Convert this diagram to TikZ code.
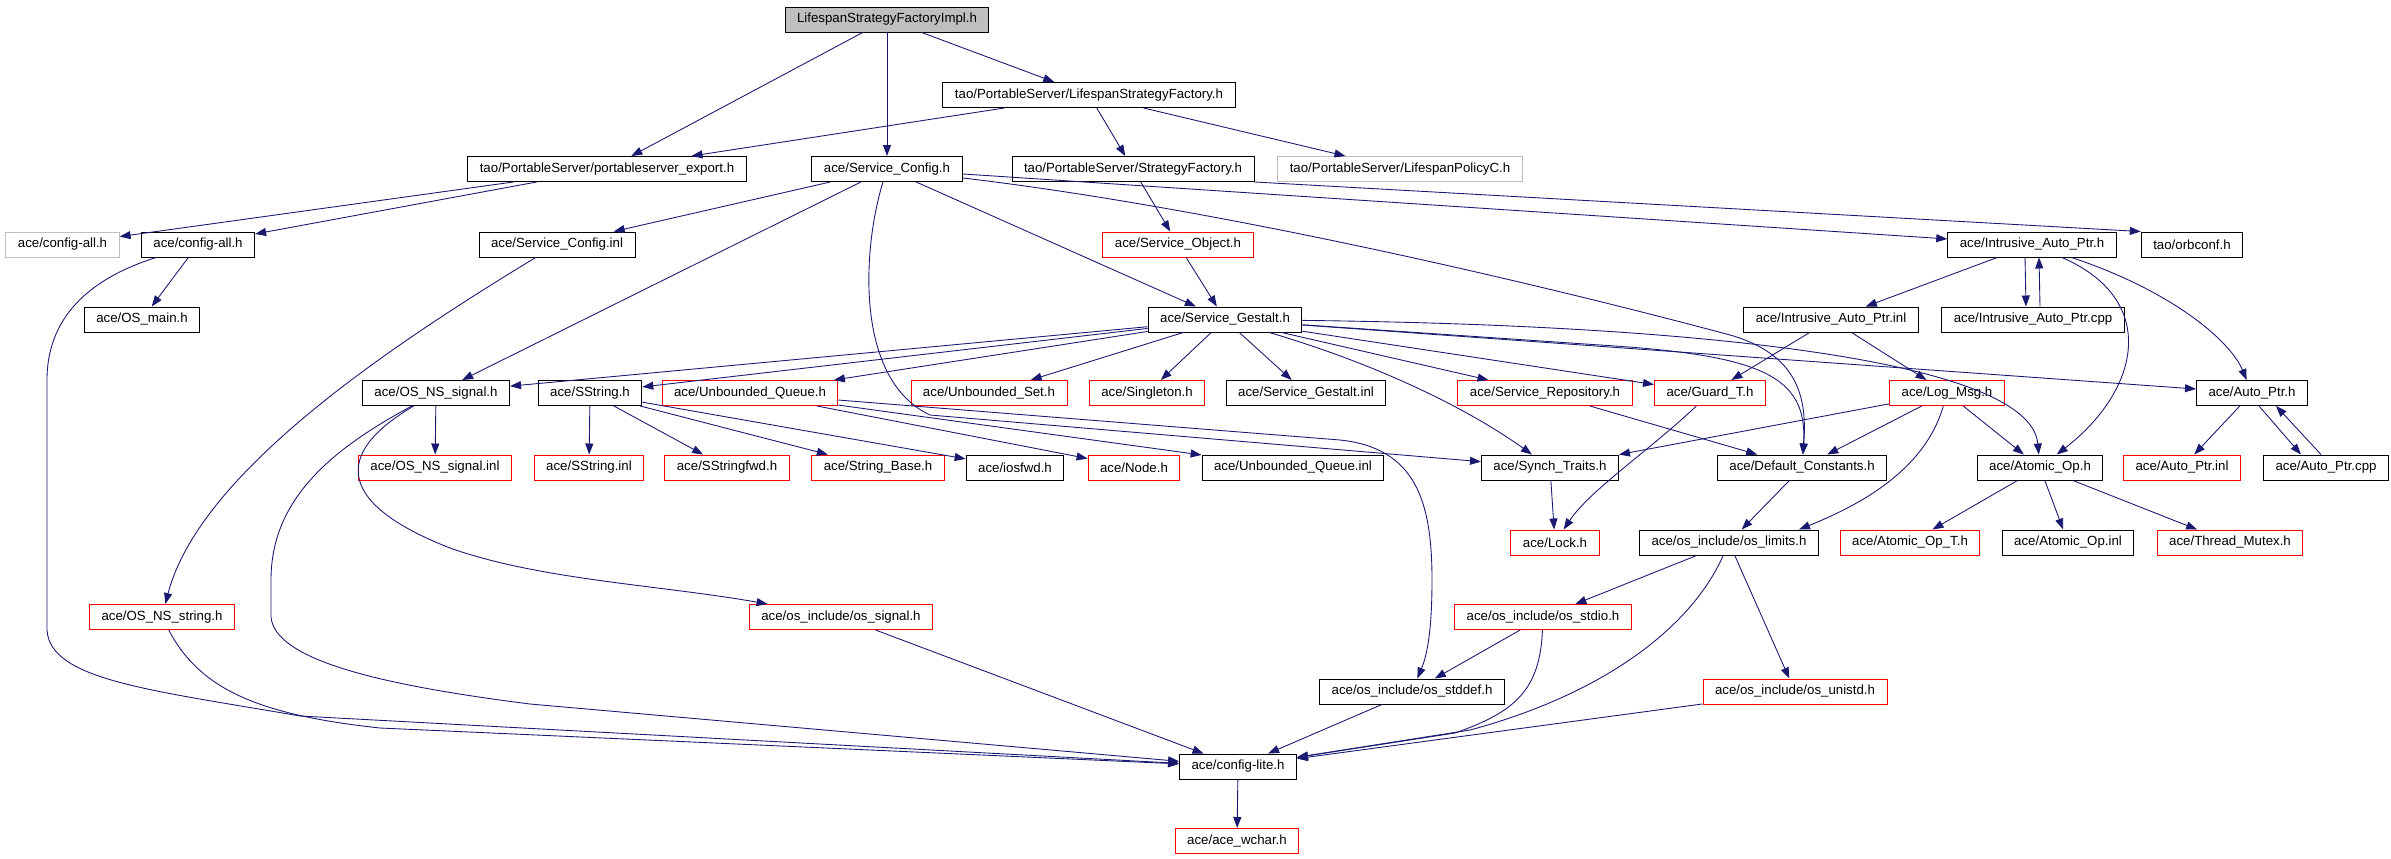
\documentclass[tikz,border=0pt]{standalone}
\usepackage{fontspec}
\setmainfont{Liberation Sans}
\usetikzlibrary{arrows.meta}
\definecolor{edgeblue}{HTML}{191970}
\definecolor{boxgray}{HTML}{BFBFBF}
\tikzset{
	hdr/.style={draw=black, line width=0.55pt, font=\fontsize{7.55}{9}\selectfont, inner xsep=0.24cm, inner ysep=0pt, minimum height=0.5cm},
	hdrred/.style={hdr, draw=red},
	hdrgray/.style={hdr, draw=boxgray},
	hdrroot/.style={hdr, fill=boxgray},
	incl/.style={draw=edgeblue, line width=0.5pt, -{Triangle[length=0.22cm,width=0.16cm]}}
}

\begin{document}
\begin{tikzpicture}[x=0.02cm,y=-0.02cm]
			\useasboundingbox (0,0) rectangle (2391,859);
			% headers, row by row
			\node[hdrroot] (lsfi) at (887,19.5) {LifespanStrategyFactoryImpl.h};
			\node[hdr] (lsf) at (1089,95) {tao/PortableServer/LifespanStrategyFactory.h};
			\node[hdr] (pse) at (607,169) {tao/PortableServer/portableserver\_export.h};
			\node[hdr] (sconf) at (887,169) {ace/Service\_Config.h};
			\node[hdr] (sfact) at (1133,169) {tao/PortableServer/StrategyFactory.h};
			\node[hdrgray] (lpolc) at (1400,169) {tao/PortableServer/LifespanPolicyC.h};
			\node[hdrgray] (cfgallx) at (62.5,244.5) {ace/config-all.h};
			\node[hdr] (cfgall) at (198,244.5) {ace/config-all.h};
			\node[hdr] (sconfinl) at (557,244.5) {ace/Service\_Config.inl};
			\node[hdrred] (sobj) at (1178,244.5) {ace/Service\_Object.h};
			\node[hdr] (iap) at (2032,244.5) {ace/Intrusive\_Auto\_Ptr.h};
			\node[hdr] (orbconf) at (2192,244.5) {tao/orbconf.h};
			\node[hdr] (osmain) at (142,319.5) {ace/OS\_main.h};
			\node[hdr] (sgest) at (1225,319.5) {ace/Service\_Gestalt.h};
			\node[hdr] (iapinl) at (1831,319.5) {ace/Intrusive\_Auto\_Ptr.inl};
			\node[hdr] (iapcpp) at (2033,319.5) {ace/Intrusive\_Auto\_Ptr.cpp};
			\node[hdr] (nssig) at (436,393) {ace/OS\_NS\_signal.h};
			\node[hdr] (sstr) at (590,393) {ace/SString.h};
			\node[hdrred] (uqueue) at (750,393) {ace/Unbounded\_Queue.h};
			\node[hdrred] (uset) at (989,393) {ace/Unbounded\_Set.h};
			\node[hdrred] (single) at (1147,393) {ace/Singleton.h};
			\node[hdr] (sgestinl) at (1306,393) {ace/Service\_Gestalt.inl};
			\node[hdrred] (srepo) at (1545,393) {ace/Service\_Repository.h};
			\node[hdrred] (guard) at (1710,393) {ace/Guard\_T.h};
			\node[hdrred] (logmsg) at (1947,393) {ace/Log\_Msg.h};
			\node[hdr] (aptr) at (2252,393) {ace/Auto\_Ptr.h};
			\node[hdrred] (nssiginl) at (435,467.5) {ace/OS\_NS\_signal.inl};
			\node[hdrred] (sstrinl) at (589,467.5) {ace/SString.inl};
			\node[hdrred] (sstrfwd) at (727,467.5) {ace/SStringfwd.h};
			\node[hdrred] (strbase) at (878,467.5) {ace/String\_Base.h};
			\node[hdr] (iosfwd) at (1015,467.5) {ace/iosfwd.h};
			\node[hdrred] (nodeh) at (1134,467.5) {ace/Node.h};
			\node[hdr] (uqinl) at (1293,467.5) {ace/Unbounded\_Queue.inl};
			\node[hdr] (synch) at (1550,467.5) {ace/Synch\_Traits.h};
			\node[hdr] (defc) at (1802,467.5) {ace/Default\_Constants.h};
			\node[hdr] (atomic) at (2040,467.5) {ace/Atomic\_Op.h};
			\node[hdrred] (aptrinl) at (2182,467.5) {ace/Auto\_Ptr.inl};
			\node[hdr] (aptrcpp) at (2326,467.5) {ace/Auto\_Ptr.cpp};
			\node[hdrred] (lock) at (1555,542.5) {ace/Lock.h};
			\node[hdr] (oslim) at (1729,542.5) {ace/os\_include/os\_limits.h};
			\node[hdrred] (atomict) at (1910,542.5) {ace/Atomic\_Op\_T.h};
			\node[hdr] (atomicinl) at (2068,542.5) {ace/Atomic\_Op.inl};
			\node[hdrred] (tmutex) at (2230,542.5) {ace/Thread\_Mutex.h};
			\node[hdrred] (nsstr) at (162,617) {ace/OS\_NS\_string.h};
			\node[hdrred] (ossig) at (841,617) {ace/os\_include/os\_signal.h};
			\node[hdrred] (osstdio) at (1543,617) {ace/os\_include/os\_stdio.h};
			\node[hdr] (osstddef) at (1412,691.5) {ace/os\_include/os\_stddef.h};
			\node[hdrred] (osunistd) at (1795,691.5) {ace/os\_include/os\_unistd.h};
			\node[hdr] (cfglite) at (1238,766.5) {ace/config-lite.h};
			\node[hdrred] (wchar) at (1237,841) {ace/ace\_wchar.h};

			% includes
			\draw[incl] (lsfi) -- (pse);
			\draw[incl] (lsfi) -- (sconf);
			\draw[incl] (lsfi) -- (lsf);
			\draw[incl] (lsf) -- (pse);
			\draw[incl] (lsf) -- (sfact);
			\draw[incl] (lsf) -- (lpolc);
			\draw[incl] (pse) -- (cfgallx);
			\draw[incl] (pse) -- (cfgall);
			\draw[incl] (cfgall) -- (osmain);
			\draw[incl] (cfgall) .. controls (100,275) and (47,310) .. (47,380) -- (47,630)
				.. controls (50,680) and (150,690) .. (300,716) -- (cfglite);
			\draw[incl] (sconf) -- (sconfinl);
			\draw[incl] (sconf) -- (nssig);
			\draw[incl] (sconf) -- (sgest);
			\draw[incl] (sconf) -- (iap);
			\draw[incl] (sconf) .. controls (862,250) and (855,380) .. (930,415) -- (synch);
			\draw[incl] (sconf) .. controls (1250,212) and (1600,300) .. (1730,335)
				.. controls (1800,355) and (1807,400) .. (defc);
			\draw[incl] (sfact) -- (sobj);
			\draw[incl] (sfact.south east) -- (orbconf.north west);
			\draw[incl] (sobj) -- (sgest);
			\draw[incl] (sconfinl) .. controls (400,340) and (200,470) .. (nsstr);
			\draw[incl] (iap) -- (iapinl);
			\draw[incl] ([xshift=-0.14cm]iap.south) -- ([xshift=-0.14cm]iapcpp.north);
			\draw[incl] ([xshift=0.14cm]iapcpp.north) -- ([xshift=0.14cm]iap.south);
			\draw[incl] (iap) .. controls (2160,300) and (2140,390) .. (atomic);
			\draw[incl] (iap) .. controls (2170,290) and (2230,340) .. (aptr);
			\draw[incl] (sgest) -- (nssig);
			\draw[incl] (sgest) -- (sstr);
			\draw[incl] (sgest) -- (uqueue);
			\draw[incl] (sgest) -- (uset);
			\draw[incl] (sgest) -- (single);
			\draw[incl] (sgest) -- (sgestinl);
			\draw[incl] (sgest) -- (srepo);
			\draw[incl] (sgest) -- (guard);
			\draw[incl] (sgest) -- (aptr);
			\draw[incl] (sgest) .. controls (1380,365) and (1470,410) .. (synch);
			\draw[incl] (sgest) -- (1600,345) .. controls (1760,355) and (1808,375) .. (defc);
			\draw[incl] (sgest) .. controls (1700,325) and (2030,360) .. (atomic);
			\draw[incl] (iapinl) -- (guard);
			\draw[incl] (iapinl) -- (logmsg);
			\draw[incl] (nssig) -- (nssiginl);
			\draw[incl] (nssig) .. controls (330,455) and (340,505) .. (450,548)
				.. controls (540,580) and (660,585) .. (ossig);
			\draw[incl] (nssig) .. controls (330,450) and (271,500) .. (271,580) -- (271,617)
				.. controls (275,660) and (380,685) .. (530,704) -- (cfglite);
			\draw[incl] (sstr) -- (sstrinl);
			\draw[incl] (sstr) -- (sstrfwd);
			\draw[incl] (sstr) -- (strbase);
			\draw[incl] (sstr) -- (iosfwd);
			\draw[incl] (uqueue) -- (nodeh);
			\draw[incl] (uqueue) -- (uqinl);
			\draw[incl] (uqueue) -- (1340,440) .. controls (1415,448) and (1432,500) .. (1432,580)
				.. controls (1432,640) and (1425,660) .. (osstddef);
			\draw[incl] (srepo) -- (defc);
			\draw[incl] (guard) .. controls (1650,450) and (1590,490) .. (lock);
			\draw[incl] (logmsg) -- (synch);
			\draw[incl] (logmsg) -- (defc);
			\draw[incl] (logmsg) -- (atomic);
			\draw[incl] (logmsg) .. controls (1925,470) and (1860,505) .. ([xshift=1.4cm]oslim.north);
			\draw[incl] (aptr) -- (aptrinl);
			\draw[incl] ([xshift=0.14cm]aptr.south) -- ([xshift=-0.5cm]aptrcpp.north);
			\draw[incl] ([xshift=-0.1cm]aptrcpp.north) -- ([xshift=0.48cm]aptr.south);
			\draw[incl] (synch) -- (lock);
			\draw[incl] (defc) -- (oslim);
			\draw[incl] (atomic) -- (atomict);
			\draw[incl] (atomic) -- (atomicinl);
			\draw[incl] (atomic) -- (tmutex);
			\draw[incl] (oslim) -- (osstdio);
			\draw[incl] (oslim) -- (osunistd);
			\draw[incl] (oslim) .. controls (1690,630) and (1600,695) .. (1470,730) -- (cfglite);
			\draw[incl] (nsstr) .. controls (200,690) and (260,715) .. (380,728) -- (cfglite);
			\draw[incl] (ossig) -- (cfglite);
			\draw[incl] (osstdio) -- (osstddef);
			\draw[incl] (osstdio) .. controls (1540,690) and (1515,712) .. (1455,733) -- (cfglite);
			\draw[incl] (osstddef) -- (cfglite);
			\draw[incl] (osunistd) -- (cfglite);
			\draw[incl] (cfglite) -- (wchar);
\end{tikzpicture}
\end{document}
